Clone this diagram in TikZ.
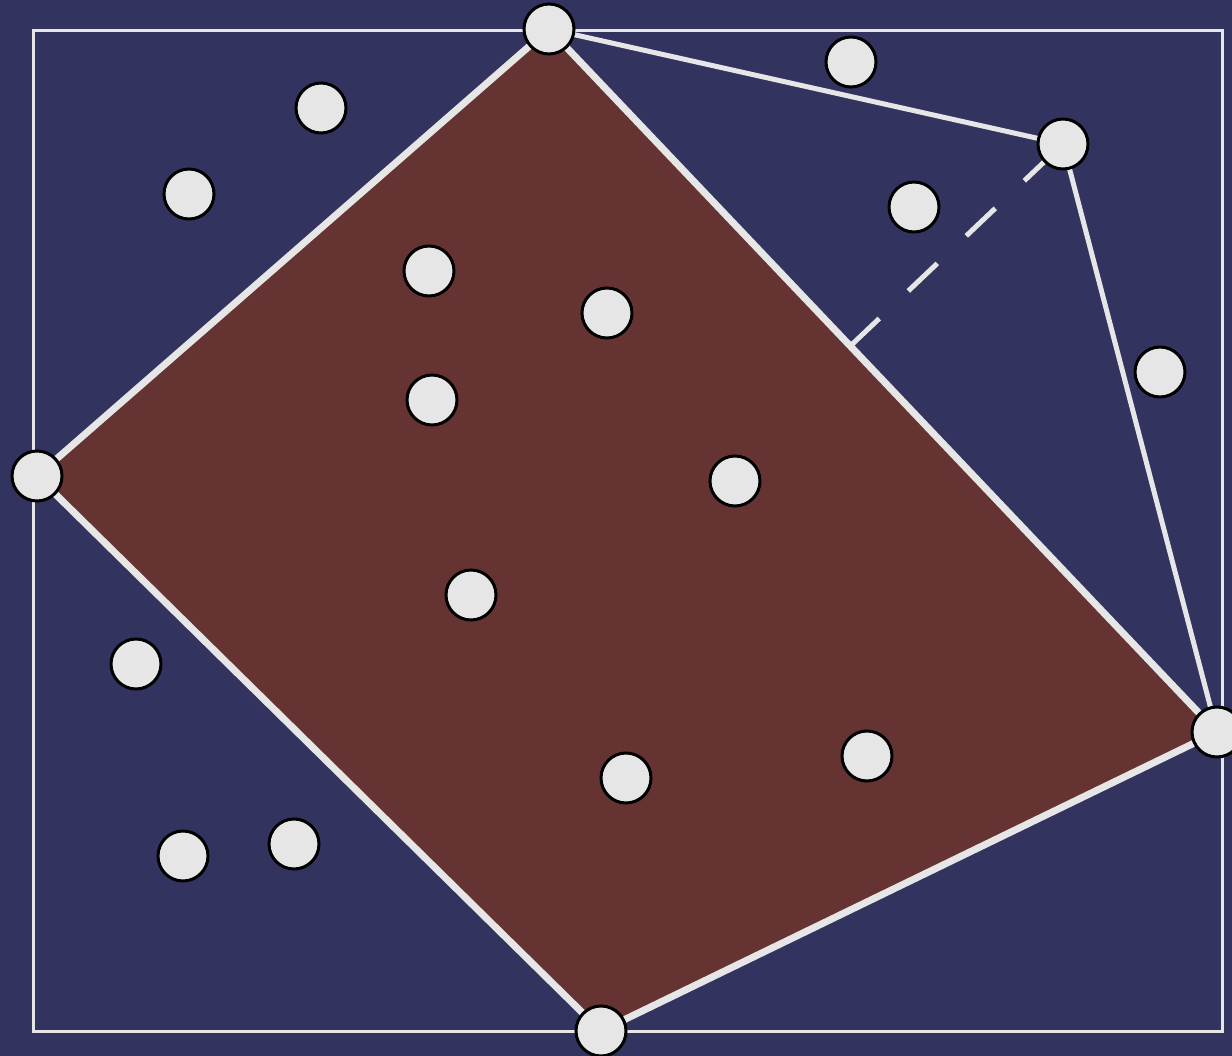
\documentclass[tikz,border=0pt]{standalone}
\usetikzlibrary{calc}
\definecolor{bg}{RGB}{51,51,95}
\definecolor{hull}{RGB}{102,51,51}
\definecolor{lite}{RGB}{230,230,230}
\begin{document}
\begin{tikzpicture}[x=1pt,y=-1pt,
  pt/.style={circle,draw=black,line width=3pt,fill=lite,minimum size=50pt,inner sep=0pt},
  hulledge/.style={draw=lite,line width=7pt,line join=round},
  thin/.style={draw=lite,line width=5pt},
  perp/.style={draw=lite,line width=5pt,dash pattern=on 40pt off 40pt}]
\fill[bg] (0,0) rectangle (1232,1056);
\useasboundingbox (0,0) rectangle (1232,1056);
\draw[lite,line width=3pt] (33,31) rectangle (1222,1031);
\coordinate (T) at (549,29);
\coordinate (R) at (1217,732);
\coordinate (B) at (601,1031);
\coordinate (L) at (37,476);
\coordinate (U) at (1063,144);
\fill[hull] (T) -- (R) -- (B) -- (L) -- cycle;
\draw[hulledge] (T) -- (R) -- (B) -- (L) -- cycle;
\draw[thin] (T) -- (U) -- (R);
\coordinate (F) at ($(T)!(U)!(R)$);
\draw[perp] (F) -- (U);
\foreach \n/\p in {t/T,r/R,b/B,l/L,u/U} \node[pt] (\n) at (\p) {};
\foreach \n/\x/\y in {a/851/62,c/321/108,d/189/194,e/429/271,f/607/313,g/914/207,h/432/400,i/735/481,j/1160/372,k/471/595,m/136/664,n/626/778,o/867/756,p/183/856,q/294/844}
  \node[pt] (\n) at (\x,\y) {};
\end{tikzpicture}
\end{document}
